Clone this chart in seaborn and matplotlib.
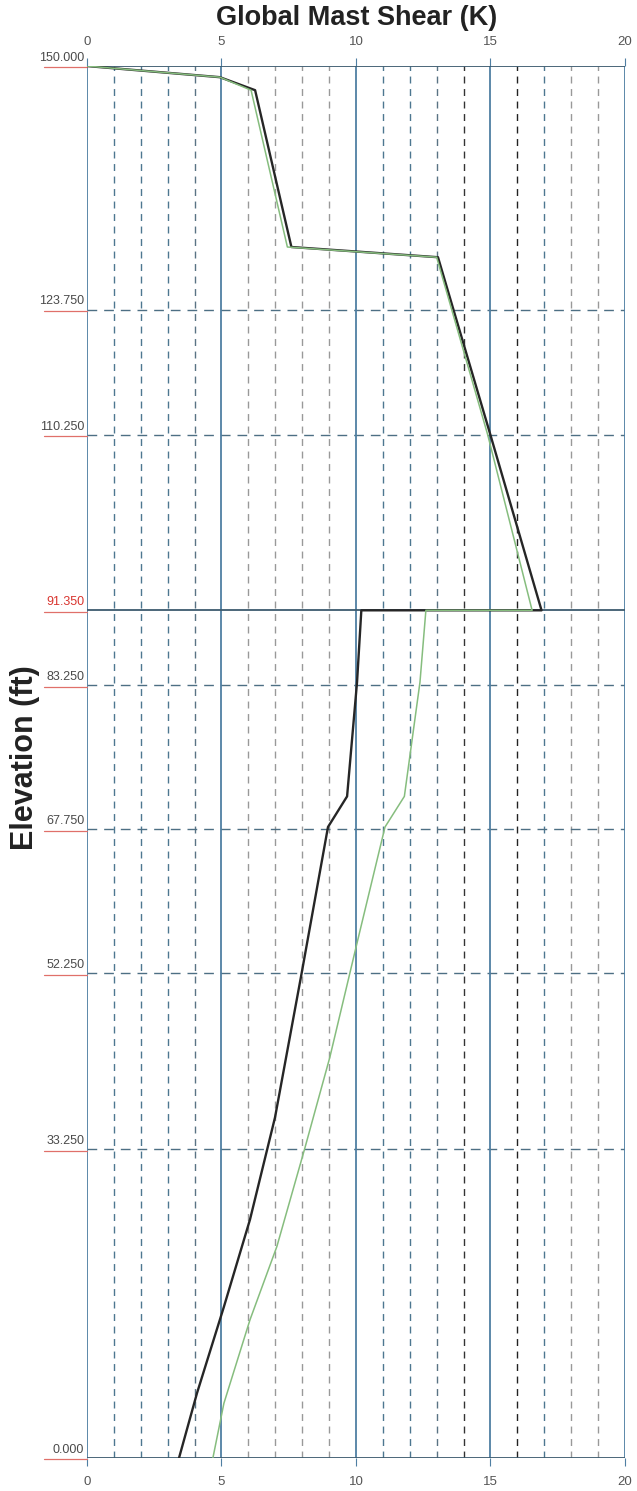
################################################################################
# modules/packages
################################################################################

import matplotlib
matplotlib.use("Agg")
import matplotlib.pyplot as plt
import matplotlib.transforms as mtransforms
import pandas as pd
import seaborn as sns

################################################################################
# data
################################################################################

black_elev = [150.0, 148.8, 147.4, 130.5, 129.4, 110.25, 91.35, 91.35, 83.6,
              71.3, 68.0, 52.4, 36.7, 25.7, 16.3, 7.0, 0.0]
black_shear = [0.0, 4.94, 6.25, 7.6, 13.05, 15.0, 16.9, 10.2, 10.04,
               9.67, 8.96, 7.99, 6.99, 6.06, 5.09, 4.09, 3.42]

green_elev = [150.0, 148.8, 147.4, 130.5, 129.4, 110.25, 91.35, 91.35, 83.6,
              71.3, 68.0, 55.5, 43.2, 33.4, 22.8, 14.9, 5.9, 0.0]
green_shear = [0.0, 4.94, 6.1, 7.45, 13.0, 14.9, 16.55, 12.6, 12.38,
               11.8, 11.08, 10.04, 9.03, 8.1, 7.06, 6.06, 5.09, 4.68]

section_elev = [150.0, 123.75, 110.25, 91.35, 83.25, 67.75, 52.25, 33.25, 0.0]
section_labels = ["150.000", "123.750", "110.250", "91.350", "83.250",
                  "67.750", "52.250", "33.250", "0.000"]
solid_elev = [150.0, 91.35, 0.0]
red_labels = ["91.350"]

major_x = [0, 5, 10, 15, 20]
minor_x = [1, 2, 3, 4, 6, 7, 8, 9, 11, 12, 13, 14, 16, 17, 18, 19]
minor_colors = ["#4d7790", "#4d7790", "#4d7790", "#5a7384",
                "#999999", "#999999", "#999999", "#999999",
                "#4d7790", "#4d7790", "#5a7384", "#333333",
                "#222222", "#4d7790", "#999999", "#999999"]

df_black = pd.DataFrame({"shear": black_shear, "elev": black_elev})
df_green = pd.DataFrame({"shear": green_shear, "elev": green_elev})

################################################################################
# figure
################################################################################

sns.set_style("white")
plt.rcParams["font.family"] = ["Liberation Sans", "DejaVu Sans"]

fig = plt.figure(figsize=(6.37, 14.91), dpi=100)
ax = fig.add_axes([0.1366, 0.0221, 0.981 - 0.1366, 0.9557 - 0.0221])

# grid
for xv, col in zip(minor_x, minor_colors):
    ax.axvline(xv, color=col, lw=1.0, ls=(0, (5, 4)), zorder=1)
for xv in major_x:
    ax.axvline(xv, color="#4f7fa3", lw=1.3, zorder=1.5)
for e in section_elev:
    if e in solid_elev:
        ax.axhline(e, color="#3d5b6e", lw=1.3, zorder=1.5)
    else:
        ax.axhline(e, color="#4d6f84", lw=1.0, ls=(0, (7, 5)), zorder=1)

sns.lineplot(data=df_black, x="shear", y="elev", sort=False, estimator=None,
             color="#262626", lw=1.7, ax=ax, zorder=3)
sns.lineplot(data=df_green, x="shear", y="elev", sort=False, estimator=None,
             color="#86bd7e", lw=1.1, ax=ax, zorder=4)

ax.set_xlim(0, 20)
ax.set_ylim(0, 150)
for s in ax.spines.values():
    s.set_visible(False)

ax.set_xticks(major_x)
ax.tick_params(axis="x", which="both", top=True, labeltop=True, bottom=True,
               labelbottom=True, length=6, color="#4f7fa3", labelsize=9.5,
               labelcolor="#555555", pad=7)
ax.set_yticks([])
ax.set_xlabel("")
ax.set_ylabel("")

# elevation labels with red underline
trans = mtransforms.blended_transform_factory(ax.transAxes, ax.transData)
for e, lab in zip(section_elev, section_labels):
    col = "#d9352f" if lab in red_labels else "#4a4a4a"
    ax.text(-0.005, e + 0.25, lab, transform=trans, ha="right", va="bottom",
            fontsize=9, color=col)
    ax.plot([-0.08, 0.0], [e - 0.15, e - 0.15], transform=trans,
            color="#e0706a", lw=0.9, clip_on=False)

fig.text(0.56, 0.988, "Global Mast Shear (K)", ha="center", va="center",
         fontsize=19.5, fontweight="bold", color="#222222")
fig.text(0.04, 0.492, "Elevation (ft)", ha="center", va="center",
         rotation=90, fontsize=22, fontweight="bold", color="#222222")

fig.savefig("out.png", dpi=100, facecolor="white")
